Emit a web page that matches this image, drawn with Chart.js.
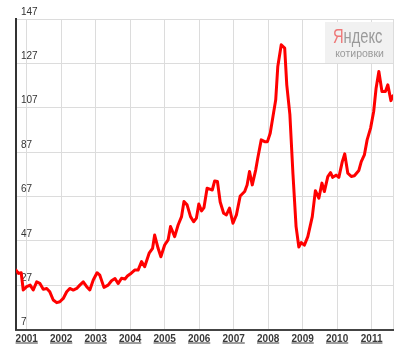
<!DOCTYPE html>
<html>
<head>
<meta charset="utf-8">
<script src="https://cdn.jsdelivr.net/npm/chart.js@4.4.1/dist/chart.umd.min.js"></script>
<style>
  html, body { margin: 0; padding: 0; background: #fff; }
  #wrap { width: 409px; height: 352px; }
</style>
</head>
<body>
<div id="wrap"><canvas id="chart"></canvas></div>
<script>
// Dates as decimal years
const dates = [
  2000.69, 2000.76, 2000.84, 2000.90, 2001.00, 2001.10, 2001.19, 2001.29, 2001.38, 2001.48,
  2001.58, 2001.67, 2001.77, 2001.87, 2001.96, 2002.06, 2002.16, 2002.25, 2002.35, 2002.45,
  2002.54, 2002.64, 2002.74, 2002.83, 2002.93, 2003.04, 2003.12, 2003.24, 2003.36, 2003.46,
  2003.56, 2003.65, 2003.75, 2003.85, 2003.92, 2004.00, 2004.13, 2004.23, 2004.33, 2004.42,
  2004.55, 2004.65, 2004.71, 2004.81, 2004.89, 2005.00, 2005.10, 2005.17, 2005.29, 2005.39,
  2005.49, 2005.56, 2005.65, 2005.75, 2005.84, 2005.92, 2005.99, 2006.07, 2006.14, 2006.23,
  2006.31, 2006.38, 2006.45, 2006.53, 2006.61, 2006.71, 2006.79, 2006.88, 2006.98, 2007.08,
  2007.19, 2007.32, 2007.39, 2007.46, 2007.54, 2007.64, 2007.70, 2007.80, 2007.90, 2007.98,
  2008.06, 2008.14, 2008.22, 2008.28, 2008.38, 2008.48, 2008.54, 2008.63, 2008.72, 2008.81,
  2008.89, 2008.96, 2009.05, 2009.15, 2009.28, 2009.37, 2009.47, 2009.56, 2009.63, 2009.73,
  2009.81, 2009.87, 2009.97, 2010.05, 2010.15, 2010.22, 2010.31, 2010.41, 2010.50, 2010.63,
  2010.70, 2010.79, 2010.87, 2010.97, 2011.06, 2011.13, 2011.21, 2011.30, 2011.40, 2011.47,
  2011.56, 2011.62,
];

// Quote values
const prices = [
  33.8, 32.3, 32.6, 24.8, 26.3, 27.0, 24.8, 28.5, 27.8, 25.1,
  25.5, 24.0, 20.3, 19.1, 19.5, 21.0, 24.0, 25.5, 24.8, 25.5,
  27.0, 28.5, 26.3, 24.8, 29.3, 32.6, 31.5, 26.0, 27.0, 29.0,
  30.0, 27.7, 30.1, 29.8, 31.1, 32.0, 33.8, 33.8, 37.6, 35.3,
  41.4, 43.6, 49.6, 43.6, 39.8, 45.1, 47.4, 53.4, 48.9, 54.1,
  57.9, 64.7, 63.2, 57.9, 55.6, 57.2, 63.6, 60.5, 62.0, 70.7,
  70.3, 69.9, 74.0, 73.7, 64.5, 59.4, 58.7, 61.7, 54.9, 58.7,
  67.2, 69.2, 72.2, 78.2, 72.2, 79.0, 84.3, 92.5, 91.7, 91.7,
  95.5, 103.0, 110.6, 125.6, 135.4, 133.9, 117.3, 104.0, 77.0, 53.4,
  44.2, 46.2, 45.0, 48.9, 57.9, 69.6, 66.2, 73.0, 69.2, 75.9,
  77.7, 75.6, 76.6, 75.6, 82.7, 86.2, 77.5, 76.0, 76.3, 78.7,
  82.7, 85.7, 92.5, 97.8, 105.3, 115.8, 123.3, 114.3, 114.3, 117.3,
  110.2, 112.4,
];

// Axis labels
const yearLabels = [2001, 2002, 2003, 2004, 2005, 2006, 2007, 2008, 2009, 2010, 2011];
const yTicks = [7, 27, 47, 67, 87, 107, 127, 147];

const xMin = dates[0];
const xMax = dates[dates.length - 1];

const font = 'Liberation Sans, Arial, sans-serif';

// Underlined year labels under the x axis
const yearLabelPlugin = {
  id: 'yearLabels',
  afterDraw(chart) {
    const { ctx, chartArea } = chart;
    const xScale = chart.scales.x;
    ctx.save();
    ctx.font = 'bold 10px ' + font;
    ctx.fillStyle = '#3a3a3a';
    ctx.strokeStyle = '#3a3a3a';
    ctx.lineWidth = 1;
    ctx.textAlign = 'center';
    ctx.textBaseline = 'alphabetic';
    const baseY = chartArea.bottom + 12;
    yearLabels.forEach((yr) => {
      const x = xScale.getPixelForValue(yr);
      const label = String(yr);
      const w = ctx.measureText(label).width;
      ctx.fillText(label, x, baseY);
      ctx.beginPath();
      ctx.moveTo(x - w / 2, baseY + 1.5);
      ctx.lineTo(x + w / 2, baseY + 1.5);
      ctx.stroke();
    });
    ctx.restore();
  },
};

// Yandex watermark box in the top right corner
const watermarkPlugin = {
  id: 'watermark',
  beforeDatasetsDraw(chart) {
    const { ctx, chartArea } = chart;
    const left = chartArea.right - 68;
    const top = chartArea.top + 3;
    ctx.save();
    ctx.fillStyle = '#f1f1f1';
    ctx.fillRect(left, top, 68, 41);

    ctx.textBaseline = 'alphabetic';
    ctx.textAlign = 'left';
    ctx.translate(left + 8, top + 21);
    ctx.scale(0.7, 1);
    ctx.font = '21px ' + font;
    ctx.fillStyle = '#ee7777';
    ctx.fillText('Я', 0, 0);
    const wYa = ctx.measureText('Я').width;
    ctx.fillStyle = '#9a9a9a';
    ctx.fillText('ндекс', wYa, 0);
    ctx.restore();

    ctx.save();
    ctx.font = '10.5px ' + font;
    ctx.fillStyle = '#9a9a9a';
    ctx.textAlign = 'center';
    ctx.fillText('котировки', left + 34.5, top + 35);
    ctx.restore();
  },
};

const initChart = () => {
  const ctx = document.getElementById('chart');
  new Chart(ctx, {
    type: 'line',
    data: {
      datasets: [
        {
          data: dates.map((d, i) => ({ x: d, y: prices[i] })),
          borderColor: '#ff0000',
          borderWidth: 3,
          pointRadius: 0,
          tension: 0,
          fill: false,
          borderJoinStyle: 'round',
          borderCapStyle: 'round',
        },
      ],
    },
    options: {
      responsive: true,
      maintainAspectRatio: false,
      animation: false,
      layout: {
        padding: { left: 16, top: 19, right: 16, bottom: 22.5 },
      },
      plugins: {
        legend: { display: false },
        tooltip: { enabled: false },
      },
      scales: {
        x: {
          type: 'linear',
          min: xMin,
          max: xMax,
          afterBuildTicks: (scale) => {
            scale.ticks = [...yearLabels, xMax].map((v) => ({ value: v }));
          },
          afterFit: (scale) => { scale.height = 0; },
          ticks: { display: false },
          grid: { color: '#dcdcdc', lineWidth: 1, drawTicks: false },
          border: { display: true, color: '#444', width: 2 },
        },
        y: {
          min: yTicks[0],
          max: yTicks[yTicks.length - 1],
          afterBuildTicks: (scale) => {
            scale.ticks = yTicks.map((v) => ({ value: v }));
          },
          afterFit: (scale) => { scale.width = 0; },
          ticks: {
            mirror: true,
            padding: 5,
            labelOffset: -7,
            color: '#333',
            font: { family: font, size: 10 },
          },
          grid: { color: '#dcdcdc', lineWidth: 1, drawTicks: false },
          border: { display: true, color: '#333', width: 2 },
        },
      },
    },
    plugins: [watermarkPlugin, yearLabelPlugin],
  });
};

initChart();
</script>
</body>
</html>
